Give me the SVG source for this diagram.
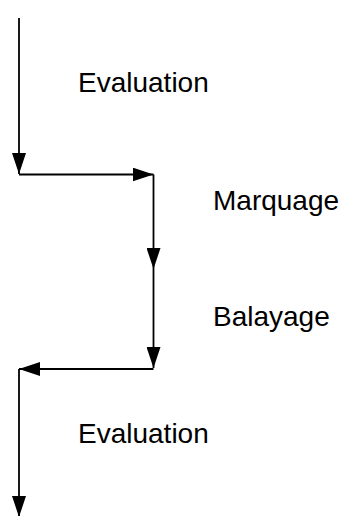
<svg xmlns="http://www.w3.org/2000/svg" width="345" height="516" viewBox="0 0 345 516">
  <style>
    .lbl { font-family: "Liberation Sans", Arial, sans-serif; font-size: 28px; fill: #000; }
    .conn { stroke: #000; stroke-width: 1.8; fill: none; marker-end: url(#arr); }
  </style>
  <defs>
    <marker id="arr" markerUnits="userSpaceOnUse" markerWidth="22" markerHeight="14" refX="21" refY="7" orient="auto">
      <path d="M0,0 L21,7 L0,14 z" fill="#000"/>
    </marker>
  </defs>
  <rect width="345" height="516" fill="#fff"/>
  <g id="connectors">
    <line class="conn" x1="19" y1="18" x2="19" y2="174"/>
    <line class="conn" x1="19" y1="174.5" x2="153.5" y2="174.5"/>
    <line class="conn" x1="153.5" y1="174.5" x2="153.5" y2="269"/>
    <line class="conn" x1="153.5" y1="269" x2="153.5" y2="368"/>
    <line class="conn" x1="153.5" y1="369" x2="19" y2="369"/>
    <line class="conn" x1="19" y1="369" x2="19" y2="517"/>
  </g>
  <g id="evaluation1"><text class="lbl" x="78" y="92">Evaluation</text></g>
  <g id="marquage"><text class="lbl" x="213" y="210">Marquage</text></g>
  <g id="balayage"><text class="lbl" x="213" y="326">Balayage</text></g>
  <g id="evaluation2"><text class="lbl" x="78" y="442.5">Evaluation</text></g>
</svg>
